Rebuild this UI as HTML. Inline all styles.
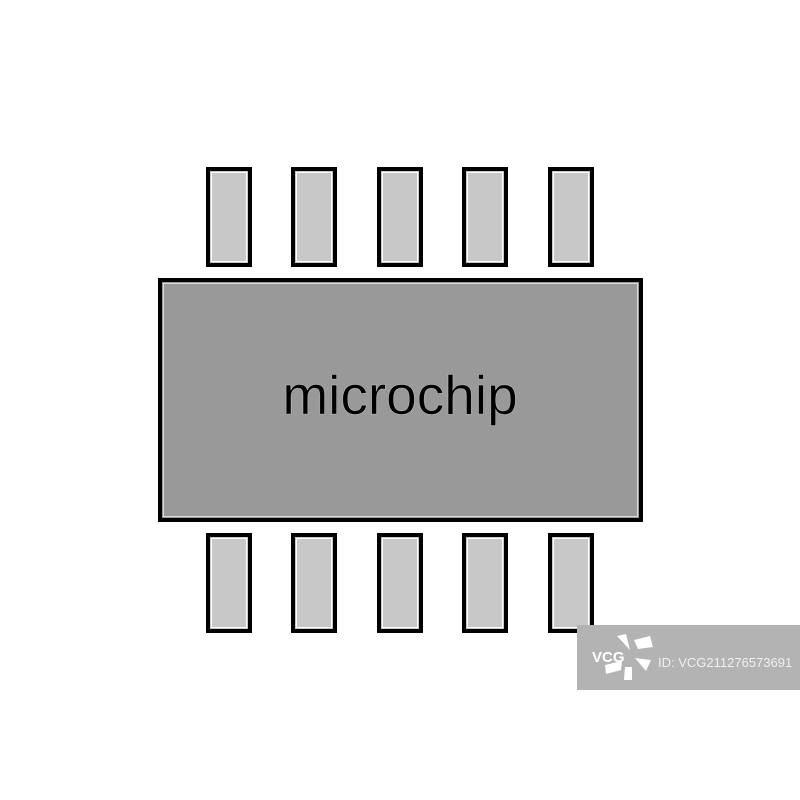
<!DOCTYPE html>
<html><head><style>
html,body{margin:0;padding:0;background:#fff;width:800px;height:800px;overflow:hidden}
</style></head><body>
<svg width="800" height="800" xmlns="http://www.w3.org/2000/svg">
<g fill="#c8c8c8" stroke="#000" stroke-width="4">
<rect x="208" y="169" width="42" height="96"/>
<rect x="293" y="169" width="42" height="96"/>
<rect x="379" y="169" width="42" height="96"/>
<rect x="464" y="169" width="42" height="96"/>
<rect x="550" y="169" width="42" height="96"/>
<rect x="208" y="535" width="42" height="96"/>
<rect x="293" y="535" width="42" height="96"/>
<rect x="379" y="535" width="42" height="96"/>
<rect x="464" y="535" width="42" height="96"/>
<rect x="550" y="535" width="42" height="96"/>
</g>
<g fill="none" stroke="#fff" stroke-width="1">
<rect x="211.5" y="172.5" width="35" height="89"/>
<rect x="296.5" y="172.5" width="35" height="89"/>
<rect x="382.5" y="172.5" width="35" height="89"/>
<rect x="467.5" y="172.5" width="35" height="89"/>
<rect x="553.5" y="172.5" width="35" height="89"/>
<rect x="211.5" y="538.5" width="35" height="89"/>
<rect x="296.5" y="538.5" width="35" height="89"/>
<rect x="382.5" y="538.5" width="35" height="89"/>
<rect x="467.5" y="538.5" width="35" height="89"/>
<rect x="553.5" y="538.5" width="35" height="89"/>
</g>
<rect x="160" y="280" width="481" height="240" fill="#999" stroke="#000" stroke-width="4"/>
<rect x="163.5" y="283.5" width="474" height="233" fill="none" stroke="#ddd" stroke-width="1"/>
<text x="400" y="414" text-anchor="middle" font-family="Liberation Sans, sans-serif" font-size="55" fill="#000" stroke="#fff" stroke-width="0.6" stroke-opacity="0.5">microchip</text>
<rect x="577" y="625" width="223" height="65" fill="#b3b3b3"/>
<text x="592" y="662" font-family="Liberation Sans, sans-serif" font-weight="bold" font-size="15" fill="#fff">VCG</text>
<g fill="#fff">
<path d="M617 636 l9 -2 l4 16 z"/>
<path d="M634 640 l16 -4 l3 11 l-15 2 z"/>
<path d="M635 658 l16 2 l-5 11 z"/>
<path d="M625 667 l7 0 l0 13 l-8 0 z"/>
<path d="M605 665 l17 -4 l-1 9 l-15 4 z"/>
</g>
<text x="658" y="667" font-family="Liberation Sans, sans-serif" font-size="13" fill="#f0f0f0">ID: VCG211276573691</text>
</svg>
</body></html>
